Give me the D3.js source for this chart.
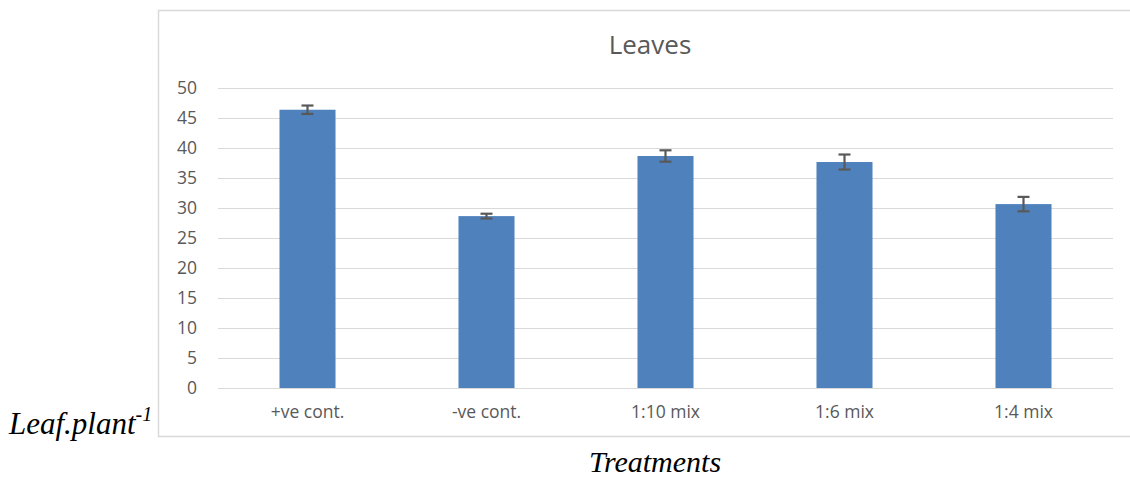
<!DOCTYPE html>
<html>
<head>
<meta charset="utf-8">
<script src="https://cdn.jsdelivr.net/npm/d3@7"></script>
<style>
  html, body { margin: 0; padding: 0; background: #ffffff; }
  svg { display: block; }
</style>
</head>
<body>
<svg id="chart" width="1130" height="478"></svg>
<script>
const categories = ["+ve cont.", "-ve cont.", "1:10 mix", "1:6 mix", "1:4 mix"];
const values = [46.3, 28.6, 38.6, 37.6, 30.6];
const errors = [0.7, 0.4, 0.95, 1.25, 1.2];
const yTicks = [0, 5, 10, 15, 20, 25, 30, 35, 40, 45, 50];
const chartTitle = "Leaves";
const xTitle = "Treatments";
const yTitleMain = "Leaf.plant";
const yTitleSup = "-1";

const svg = d3.select("#chart");
const plot = { left: 218, right: 1113, top: 87.5, bottom: 388 };
const labelFont = "'Open Sans', Lato, sans-serif";

// chart frame
svg.append("rect")
  .attr("x", 158.5).attr("y", 10.5)
  .attr("width", 1135 - 158).attr("height", 436 - 10)
  .attr("fill", "#ffffff")
  .attr("stroke", "#d9d9d9").attr("stroke-width", 1.5);

const x = d3.scaleBand()
  .domain(categories)
  .range([plot.left, plot.right])
  .paddingInner(0.687)
  .paddingOuter(0.3435);

const y = d3.scaleLinear()
  .domain([0, 50])
  .range([plot.bottom, plot.top]);

// gridlines
svg.append("g")
  .selectAll("line")
  .data(yTicks)
  .join("line")
  .attr("x1", plot.left).attr("x2", plot.right)
  .attr("y1", d => Math.round(y(d)) + 0.5)
  .attr("y2", d => Math.round(y(d)) + 0.5)
  .attr("stroke", "#d9d9d9").attr("stroke-width", 1);

// y axis labels
const yAxis = d3.axisLeft(y).tickValues(yTicks).tickSize(0).tickPadding(0);
const gy = svg.append("g").attr("transform", "translate(197,0)").call(yAxis);
gy.select(".domain").remove();
gy.selectAll("text")
  .attr("fill", "#595959")
  .style("font-family", labelFont)
  .style("font-size", "17.5px");

// bars
svg.append("g")
  .selectAll("rect")
  .data(categories)
  .join("rect")
  .attr("x", d => x(d))
  .attr("width", x.bandwidth())
  .attr("y", (d, i) => y(values[i]))
  .attr("height", (d, i) => y(0) - y(values[i]))
  .attr("fill", "#4f81bd");

// error bars
const eb = svg.append("g").attr("stroke", "#595959").attr("stroke-width", 2.2).attr("fill", "none");
categories.forEach((c, i) => {
  const cx = x(c) + x.bandwidth() / 2;
  const yt = y(values[i] + errors[i]);
  const yb = y(values[i] - errors[i]);
  eb.append("line").attr("x1", cx).attr("x2", cx).attr("y1", yt).attr("y2", yb);
  eb.append("line").attr("x1", cx - 6).attr("x2", cx + 6).attr("y1", yt).attr("y2", yt);
  eb.append("line").attr("x1", cx - 6).attr("x2", cx + 6).attr("y1", yb).attr("y2", yb);
});

// x axis labels
const xAxis = d3.axisBottom(x).tickSize(0).tickPadding(0);
const gx = svg.append("g").attr("transform", "translate(0,406)").call(xAxis);
gx.select(".domain").remove();
gx.selectAll("text")
  .attr("fill", "#595959")
  .style("font-family", labelFont)
  .style("font-size", "17.5px");

// title
svg.append("text")
  .attr("x", 650).attr("y", 54)
  .attr("text-anchor", "middle")
  .attr("fill", "#595959")
  .style("font-family", labelFont)
  .style("font-size", "26px")
  .text(chartTitle);

// x title
svg.append("text")
  .attr("x", 655).attr("y", 472)
  .attr("text-anchor", "middle")
  .attr("fill", "#000000")
  .style("font-family", "'Liberation Serif', 'Times New Roman', serif")
  .style("font-style", "italic")
  .style("font-size", "30px")
  .text(xTitle);

// y title
const yt = svg.append("text")
  .attr("x", 9).attr("y", 434)
  .attr("fill", "#000000")
  .style("font-family", "'Liberation Serif', 'Times New Roman', serif")
  .style("font-style", "italic")
  .style("font-size", "31px");
yt.append("tspan").text(yTitleMain);
yt.append("tspan").attr("dy", -13).style("font-size", "20px").text(yTitleSup);
</script>
</body>
</html>
